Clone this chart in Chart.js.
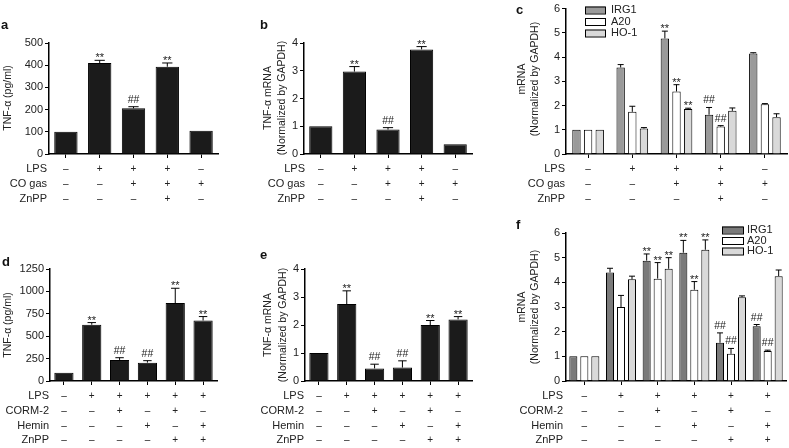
<!DOCTYPE html>
<html>
<head>
<meta charset="utf-8">
<script src="https://cdn.jsdelivr.net/npm/chart.js@4.4.1/dist/chart.umd.min.js"></script>
<style>
  body { margin: 0; background: #fff; width: 789px; height: 448px; position: relative; overflow: hidden; }
  canvas { position: absolute; }
</style>
</head>
<body>
<canvas id="chartA"></canvas>
<canvas id="chartB"></canvas>
<canvas id="chartC"></canvas>
<canvas id="chartD"></canvas>
<canvas id="chartE"></canvas>
<canvas id="chartF"></canvas>
<script>
// treatments, top row (a, b, c)
const lpsTop = ["–", "+", "+", "+", "–"];
const coTop = ["–", "–", "+", "+", "+"];
const znTop = ["–", "–", "–", "+", "–"];
// treatments, bottom row (d, e, f)
const lpsBot = ["–", "+", "+", "+", "+", "+"];
const cormBot = ["–", "–", "+", "–", "+", "–"];
const heminBot = ["–", "–", "–", "+", "–", "+"];
const znBot = ["–", "–", "–", "–", "+", "+"];

// a: TNF-α protein (pg/ml)
const tnfA = [100, 410, 206, 393, 105];
const tnfAErr = [0, 12, 7, 17, 0];
const tnfASig = ["", "**", "##", "**", ""];
const ticksA = [0, 100, 200, 300, 400, 500];

// b: TNF-α mRNA
const tnfB = [1.0, 2.97, 0.88, 3.77, 0.35];
const tnfBErr = [0, 0.18, 0.07, 0.1, 0];
const tnfBSig = ["", "**", "##", "**", ""];
const ticksB = [0, 1, 2, 3, 4];

// c: IRG1 / A20 / HO-1 mRNA
const irgC = [1, 3.57, 4.77, 1.62, 4.15];
const irgCErr = [0, 0.12, 0.3, 0.3, 0.03];
const irgCSig = ["", "", "**", "##", ""];
const a20C = [1, 1.74, 2.58, 1.13, 2.05];
const a20CErr = [0, 0.23, 0.28, 0.04, 0.03];
const a20CSig = ["", "", "**", "##", ""];
const hoC = [1, 1.05, 1.86, 1.78, 1.52];
const hoCErr = [0, 0.04, 0.03, 0.12, 0.14];
const hoCSig = ["", "", "**", "", ""];
const ticksC = [0, 1, 2, 3, 4, 5, 6];

// d: TNF-α protein (pg/ml)
const tnfD = [92, 628, 235, 205, 870, 675];
const tnfDErr = [0, 24, 25, 22, 165, 44];
const tnfDSig = ["", "**", "##", "##", "**", "**"];
const ticksD = [0, 250, 500, 750, 1000, 1250];

// e: TNF-α mRNA
const tnfE = [1.0, 2.75, 0.45, 0.48, 2.0, 2.2];
const tnfEErr = [0, 0.47, 0.15, 0.24, 0.16, 0.1];
const tnfESig = ["", "**", "##", "##", "**", "**"];
const ticksE = [0, 1, 2, 3, 4];

// f: IRG1 / A20 / HO-1 mRNA
const irgF = [1, 4.4, 4.88, 5.2, 1.55, 2.22];
const irgFErr = [0, 0.17, 0.27, 0.5, 0.4, 0.07];
const irgFSig = ["", "", "**", "**", "##", "##"];
const a20F = [1, 3.0, 4.15, 3.7, 1.1, 1.22];
const a20FErr = [0, 0.47, 0.65, 0.33, 0.22, 0.03];
const a20FSig = ["", "", "**", "**", "##", "##"];
const hoF = [1, 4.12, 4.55, 5.32, 3.4, 4.25];
const hoFErr = [0, 0.13, 0.45, 0.4, 0.05, 0.25];
const hoFSig = ["", "", "**", "**", "", ""];
const ticksF = [0, 1, 2, 3, 4, 5, 6];

const FONT = '"Liberation Sans", Arial, Helvetica, sans-serif';
Chart.defaults.font.family = FONT;
Chart.defaults.color = "#222";

const labelsTop = lpsTop.map((v, i) => v + coTop[i] + znTop[i]);
const labelsBot = lpsBot.map((v, i) => v + cormBot[i] + heminBot[i] + znBot[i]);

// draws error bars, ** / ##, treatment table, axis titles, panel letter and legend
const panelPlugin = {
  id: "panel",
  afterDatasetsDraw(chart, args, o) {
    const ctx = chart.ctx;
    const ys = chart.scales.y;
    const xs = chart.scales.x;
    const ox = o.box.x, oy = o.box.y;
    ctx.save();
    ctx.strokeStyle = "#000";
    ctx.lineWidth = 1;
    ctx.fillStyle = "#222";
    ctx.textAlign = "center";
    chart.data.datasets.forEach((ds, i) => {
      const meta = chart.getDatasetMeta(i);
      meta.data.forEach((bar, j) => {
        const err = ds.errors[j];
        const top = ys.getPixelForValue(ds.data[j] + err);
        if (err > 0) {
          const cap = Math.max(3, bar.width * 0.22);
          ctx.beginPath();
          ctx.moveTo(bar.x, bar.y);
          ctx.lineTo(bar.x, top);
          ctx.moveTo(bar.x - cap, top);
          ctx.lineTo(bar.x + cap, top);
          ctx.stroke();
        }
        const s = ds.marks[j];
        if (s === "**") {
          ctx.font = "11px " + FONT;
          ctx.fillText(s, bar.x, top + 1);
        } else if (s === "##") {
          ctx.font = "10.5px " + FONT;
          ctx.fillText(s, bar.x, top - 4);
        }
      });
    });

    // treatment table
    ctx.textBaseline = "middle";
    o.rows.forEach((row, r) => {
      const y = o.rowY[r] - oy;
      ctx.font = "11px " + FONT;
      ctx.textAlign = "right";
      ctx.fillText(row.name, o.labelX - ox, y);
      ctx.textAlign = "center";
      ctx.font = "10px " + FONT;
      row.signs.forEach((sg, j) => {
        ctx.fillText(sg, xs.getPixelForTick(j), y);
      });
    });

    // y axis title
    ctx.font = "10.5px " + FONT;
    o.title.forEach((t, k) => {
      ctx.save();
      ctx.translate(o.titleX[k] - ox, o.titleY - oy);
      ctx.rotate(-Math.PI / 2);
      ctx.textAlign = "center";
      ctx.textBaseline = "middle";
      ctx.fillText(t, 0, 0);
      ctx.restore();
    });

    // panel letter
    ctx.font = "bold 13px " + FONT;
    ctx.textAlign = "left";
    ctx.textBaseline = "alphabetic";
    ctx.fillStyle = "#111";
    ctx.fillText(o.letter, o.letterPos[0] - ox, o.letterPos[1] - oy);

    // legend
    if (o.legend) {
      const lg = o.legend;
      ctx.font = "11px " + FONT;
      ctx.textBaseline = "middle";
      chart.data.datasets.forEach((ds, i) => {
        const cy = lg.y + i * lg.dy - oy;
        ctx.fillStyle = ds.backgroundColor;
        ctx.fillRect(lg.x - ox, cy - lg.h / 2, lg.w, lg.h);
        ctx.strokeRect(lg.x - ox + 0.5, cy - lg.h / 2 + 0.5, lg.w, lg.h);
        ctx.fillStyle = "#222";
        ctx.fillText(ds.label, lg.textX - ox, cy);
      });
    }
    ctx.restore();
  }
};

function makePanel(id, box, area, labels, datasets, yTicks, extra) {
  const canvas = document.getElementById(id);
  canvas.width = box.w;
  canvas.height = box.h;
  canvas.style.left = box.x + "px";
  canvas.style.top = box.y + "px";
  extra.box = box;
  return new Chart(canvas, {
    type: "bar",
    data: { labels: labels, datasets: datasets },
    options: {
      responsive: false,
      animation: false,
      layout: { padding: { left: 0, top: area.t - box.y, right: box.x + box.w - area.r, bottom: 0 } },
      plugins: { legend: { display: false }, tooltip: { enabled: false }, panel: extra },
      scales: {
        x: {
          grid: { offset: false, drawOnChartArea: false, tickLength: 4, color: "#000", lineWidth: 1 },
          ticks: { display: false },
          border: { color: "#000", width: 1.5 },
          afterFit: (s) => { s.height = box.y + box.h - area.b; },
        },
        y: {
          min: 0,
          max: yTicks[yTicks.length - 1],
          afterBuildTicks: (s) => { s.ticks = yTicks.map((v) => ({ value: v })); },
          ticks: { font: { size: 11 }, color: "#222", padding: 2, callback: (v) => String(v) },
          grid: { drawOnChartArea: false, tickLength: 4, color: "#000", lineWidth: 1 },
          border: { color: "#000", width: 1.5 },
          afterFit: (s) => { s.width = area.l - box.x; },
        },
      },
    },
    plugins: [panelPlugin],
  });
}

function singleSet(data, errors, marks) {
  return [{
    label: "TNF-α",
    data: data, errors: errors, marks: marks,
    backgroundColor: "#1b1b1b", borderColor: "#000", borderWidth: 1,
    barPercentage: 0.69, categoryPercentage: 1,
  }];
}

function groupSets(cols, sets, catPct, barPct) {
  const names = ["IRG1", "A20", "HO-1"];
  return sets.map((s, i) => ({
    label: names[i],
    data: s[0], errors: s[1], marks: s[2],
    backgroundColor: cols[i], borderColor: "#000", borderWidth: 1,
    barPercentage: barPct, categoryPercentage: catPct,
  }));
}

const rowsTop = [
  { name: "LPS", signs: lpsTop },
  { name: "CO gas", signs: coTop },
  { name: "ZnPP", signs: znTop },
];
const rowsBot = [
  { name: "LPS", signs: lpsBot },
  { name: "CORM-2", signs: cormBot },
  { name: "Hemin", signs: heminBot },
  { name: "ZnPP", signs: znBot },
];
const rowYTop = [169, 184, 199];
const rowYBot = [396, 411, 426, 440];

makePanel("chartA", { x: 0, y: 0, w: 258, h: 218 }, { l: 49, r: 218, t: 43, b: 154 },
  labelsTop, singleSet(tnfA, tnfAErr, tnfASig), ticksA,
  { rows: rowsTop, rowY: rowYTop, labelX: 47, title: ["TNF-α (pg/ml)"], titleX: [8], titleY: 98,
    letter: "a", letterPos: [1, 29] });

makePanel("chartB", { x: 258, y: 0, w: 262, h: 218 }, { l: 304, r: 472, t: 43, b: 154 },
  labelsTop, singleSet(tnfB, tnfBErr, tnfBSig), ticksB,
  { rows: rowsTop, rowY: rowYTop, labelX: 305, title: ["TNF-α mRNA", "(Normalized by GAPDH)"],
    titleX: [268, 282], titleY: 98, letter: "b", letterPos: [260, 29] });

makePanel("chartC", { x: 508, y: 0, w: 281, h: 218 }, { l: 566, r: 787, t: 6, b: 154 },
  labelsTop, groupSets(["#9a9a9a", "#ffffff", "#d9d9d9"],
    [[irgC, irgCErr, irgCSig], [a20C, a20CErr, a20CSig], [hoC, hoCErr, hoCSig]], 0.79, 0.72), ticksC,
  { rows: rowsTop, rowY: rowYTop, labelX: 565, title: ["mRNA", "(Normalized by GAPDH)"],
    titleX: [522, 535], titleY: 79, letter: "c", letterPos: [516, 14],
    legend: { x: 585, y: 10, dy: 11.5, w: 20, h: 7, textX: 611 } });

makePanel("chartD", { x: 0, y: 218, w: 258, h: 230 }, { l: 50, r: 217, t: 269, b: 381 },
  labelsBot, singleSet(tnfD, tnfDErr, tnfDSig), ticksD,
  { rows: rowsBot, rowY: rowYBot, labelX: 49, title: ["TNF-α (pg/ml)"], titleX: [8], titleY: 325,
    letter: "d", letterPos: [2, 266] });

makePanel("chartE", { x: 258, y: 218, w: 262, h: 230 }, { l: 305, r: 472, t: 269, b: 381 },
  labelsBot, singleSet(tnfE, tnfEErr, tnfESig), ticksE,
  { rows: rowsBot, rowY: rowYBot, labelX: 304, title: ["TNF-α mRNA", "(Normalized by GAPDH)"],
    titleX: [268, 283], titleY: 325, letter: "e", letterPos: [260, 259] });

makePanel("chartF", { x: 508, y: 218, w: 281, h: 230 }, { l: 566, r: 786, t: 233, b: 381 },
  labelsBot, groupSets(["#7a7a7a", "#ffffff", "#d9d9d9"],
    [[irgF, irgFErr, irgFSig], [a20F, a20FErr, a20FSig], [hoF, hoFErr, hoFSig]], 0.9, 0.73), ticksF,
  { rows: rowsBot, rowY: rowYBot, labelX: 563, title: ["mRNA", "(Normalized by GAPDH)"],
    titleX: [522, 535], titleY: 307, letter: "f", letterPos: [516, 229],
    legend: { x: 722, y: 230, dy: 10.5, w: 21, h: 7, textX: 747 } });
</script>
</body>
</html>
